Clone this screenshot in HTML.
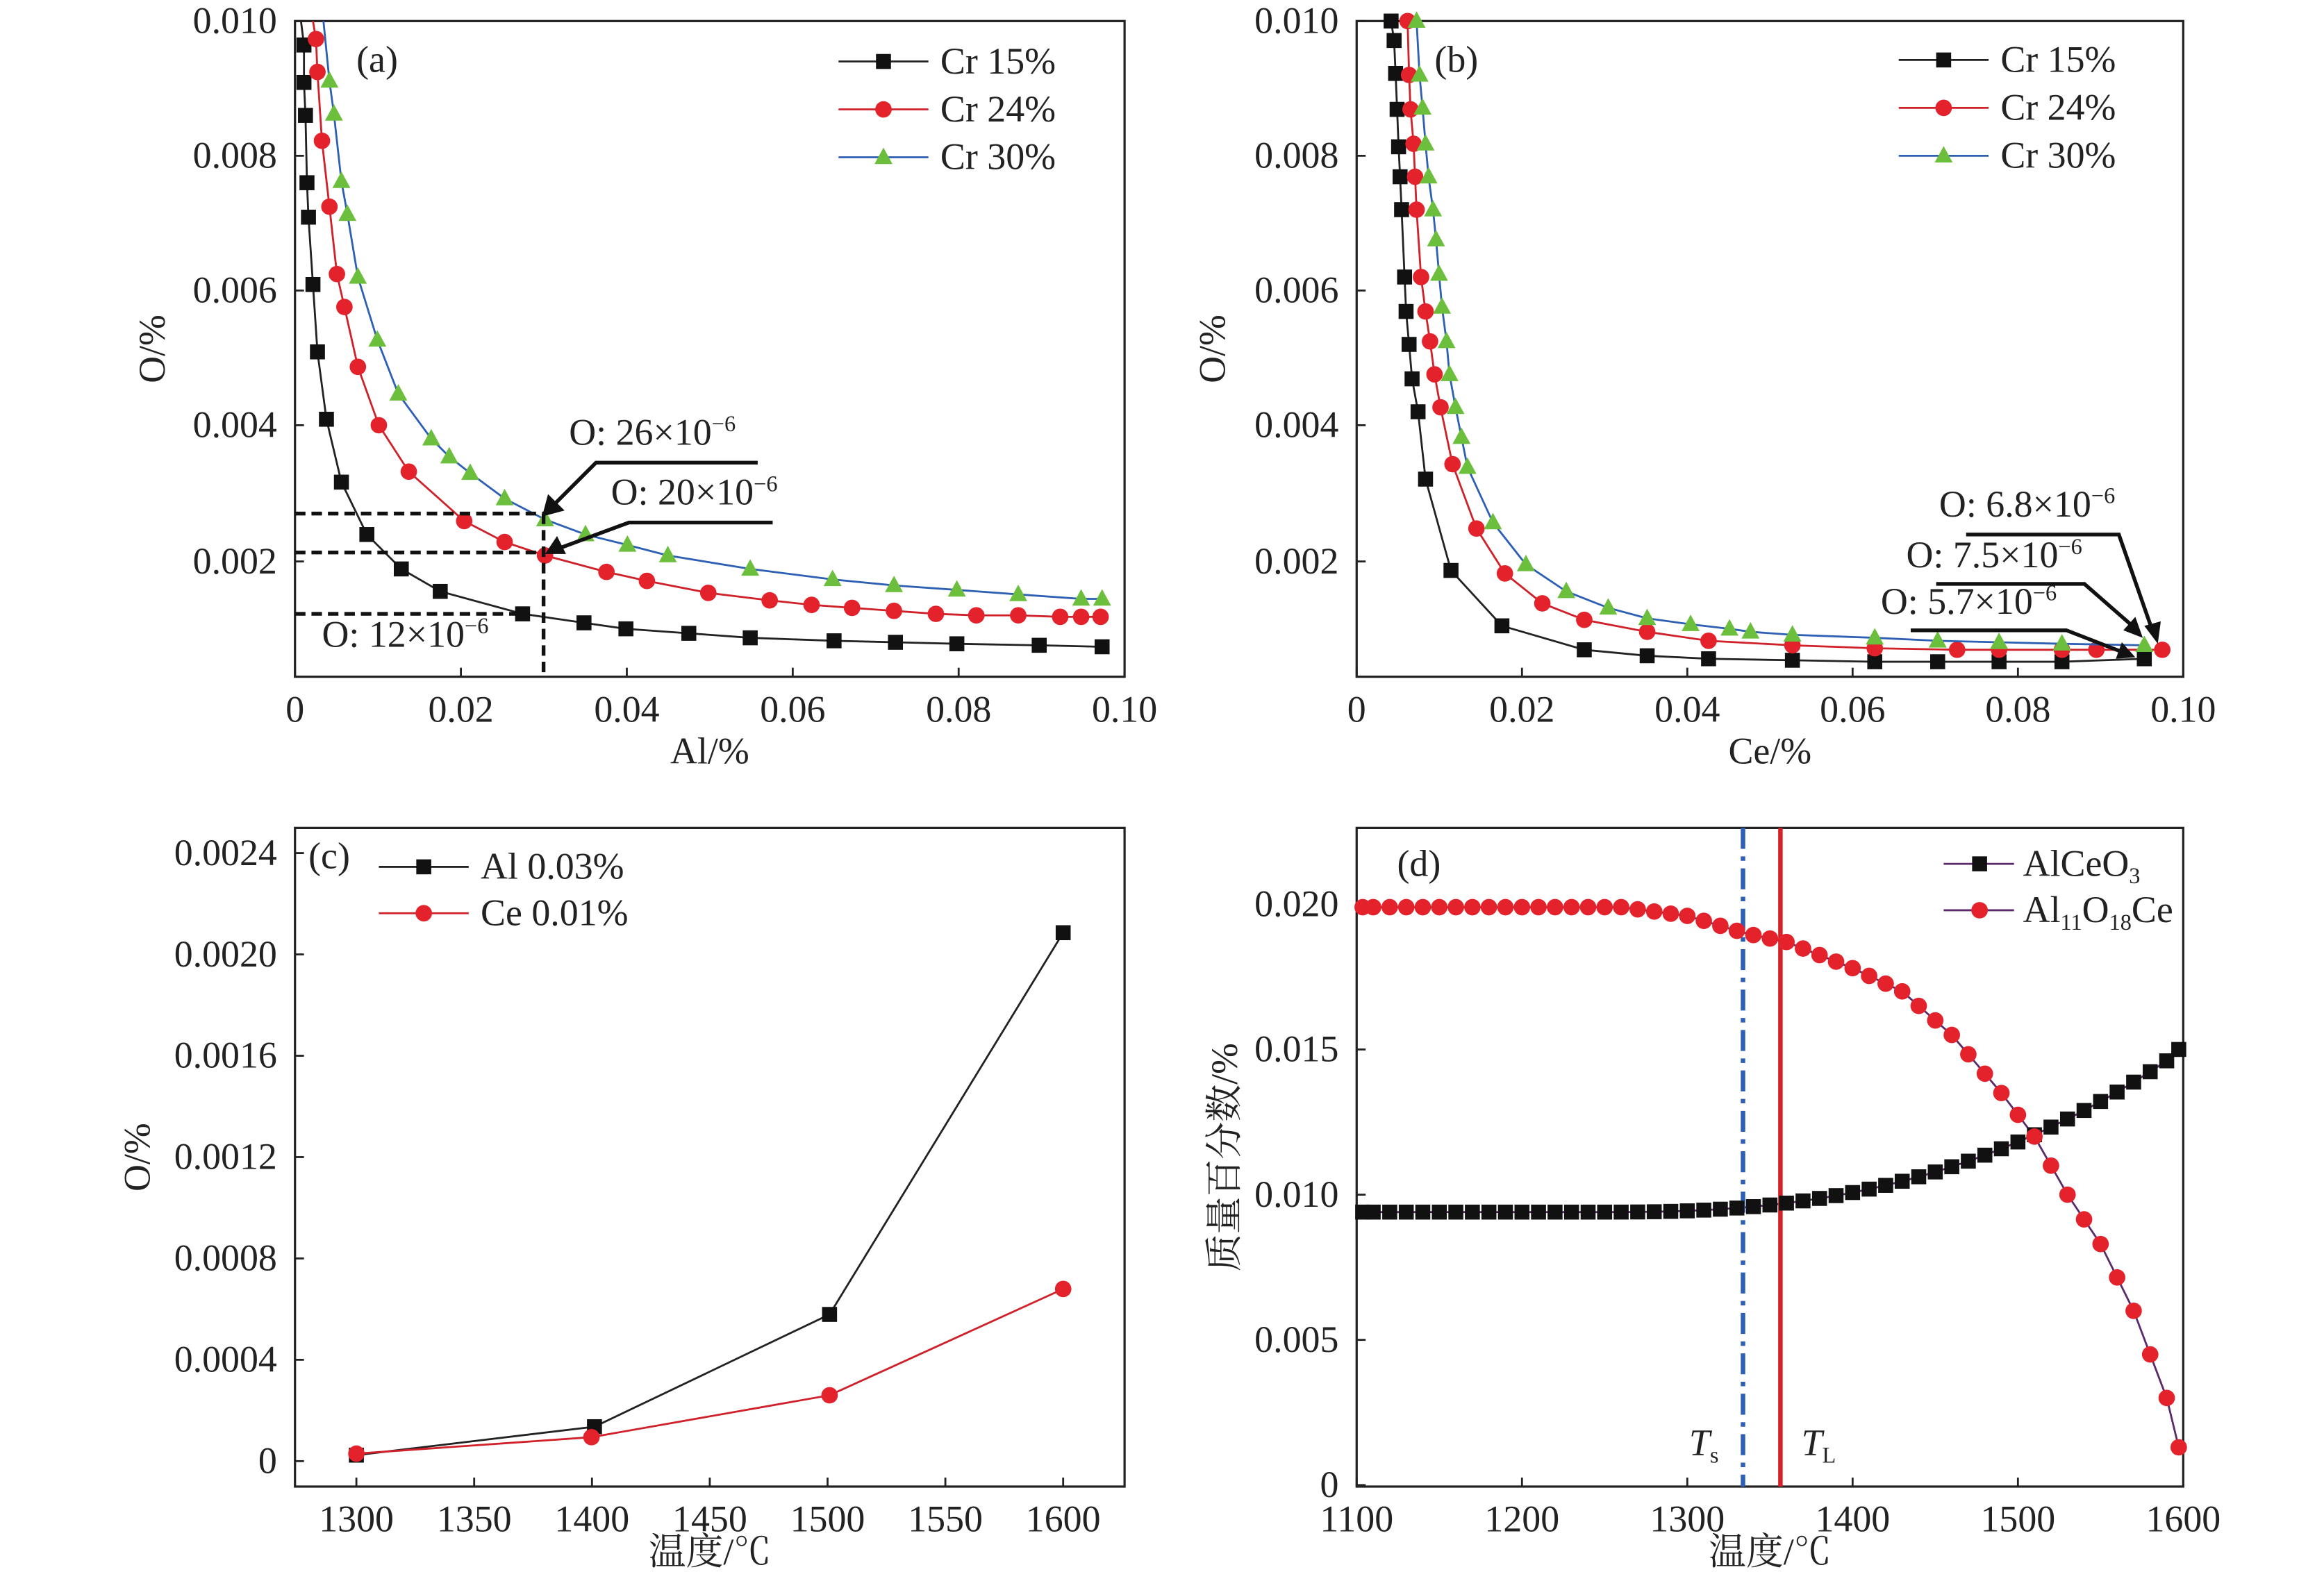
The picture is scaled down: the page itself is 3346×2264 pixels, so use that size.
<!DOCTYPE html>
<html><head><meta charset="utf-8">
<style>
html,body{margin:0;padding:0;background:#fff;}
svg{display:block;}
text{font-family:"Liberation Serif","Noto Serif CJK SC",serif;fill:#222;}
</style></head>
<body>
<svg id="s" width="3346" height="2264" viewBox="0 0 1552 1050" xmlns="http://www.w3.org/2000/svg">
<rect width="1552" height="1050" fill="#fff"/>
<g id="g"></g>
</svg>
<script>
const g=document.getElementById('g');
let h='';
function T(x,y,t,o){o=o||{};h+=`<text x="${x}" y="${y}" font-size="${o.fs||25}" text-anchor="${o.a||'start'}" ${o.tr?`transform="${o.tr}"`:''}>${t}</text>`;}
function L(pts,c,w,d){h+=`<polyline points="${pts.map(p=>p.join(',')).join(' ')}" fill="none" stroke="${c}" stroke-width="${w||1.3}" ${d?`stroke-dasharray="${d}"`:''}/>`;}
function M(p,t){const[x,y]=p;
 if(t=='s')h+=`<rect x="${x-5}" y="${y-5}" width="10" height="10" fill="#111"/>`;
 else if(t=='c')h+=`<circle cx="${x}" cy="${y}" r="5.5" fill="#e3222b"/>`;
 else h+=`<polygon points="${x},${y-6.5} ${x-6},${y+4.5} ${x+6},${y+4.5}" fill="#6cbf3c"/>`;}
function S(pts,t,c){L(pts,c);pts.forEach(p=>M(p,t));}
function box(x0,y0,x1,y1){h+=`<rect x="${x0}" y="${y0}" width="${x1-x0}" height="${y1-y0}" fill="none" stroke="#222" stroke-width="1.5"/>`;}
function xt(x,y,lab){h+=`<line x1="${x}" y1="${y}" x2="${x}" y2="${y-6}" stroke="#222" stroke-width="1.3"/>`;T(x,y+30,lab,{a:'middle'});}
function yt(x,y,lab){h+=`<line x1="${x}" y1="${y}" x2="${x+6}" y2="${y}" stroke="#222" stroke-width="1.3"/>`;T(x-12,y+8,lab,{a:'end'});}
function leg(x1,x2,y,t,c,lab){L([[x1,y],[x2,y]],c);M([(x1+x2)/2,y],t);T(x2+8,y+8,lab);}
const BK='#222',RD='#d0202a',BL='#2d5fb4',PU='#5a2a6a';
const SUP='<tspan dy="-9" font-size="15">−6</tspan>';
// Panel a
box(197,14,751,452);
[0,0.02,0.04,0.06,0.08,0.10].forEach((v,i)=>xt(197+5540*v,452,['0','0.02','0.04','0.06','0.08','0.10'][i]));
[[0.002,375],[0.004,284],[0.006,194],[0.008,104],[0.010,14]].forEach(a=>yt(197,a[1],a[0].toFixed(3)));
T(474,510,'Al/%',{a:'middle'});T(110,233,'O/%',{a:'middle',tr:'rotate(-90 110 233)'});
T(238,48,'(a)');
let a1=[[203,30],[203,55],[204,77],[205,122],[206,145],[209,190],[212,235],[218,280],[228,322],[245,357],[268,380],[294,395],[349,410],[390,416],[418,420],[460,423],[501,426],[557,428],[598,429],[639,430],[694,431],[736,432]];
let a2=[[211,26],[212,48],[215,94],[220,138],[225,183],[230,205],[239,245],[253,284],[273,315],[310,348],[337,362],[364,371],[405,382],[432,388],[473,396],[514,401],[542,404],[569,406],[597,408],[625,410],[652,411],[680,411],[708,412],[722,412],[735,412]];
let a3=[[220,54],[223,76],[228,121],[232,143],[239,185],[252,227],[266,263],[288,293],[300,305],[314,316],[337,333],[364,347],[391,357],[419,364],[446,371],[501,380],[556,387],[597,391],[639,394],[680,397],[722,400],[736,400]];
L([[201,14],[203,30]],BK);L([[209,14],[211,26]],RD);L([[216,14],[220,54]],BL);
S(a1,'s',BK);S(a2,'c',RD);S(a3,'t',BL);
leg(560,620,41,'s',BK,'Cr 15%');leg(560,620,73,'c',RD,'Cr 24%');leg(560,620,105,'t',BL,'Cr 30%');
L([[197,343],[364,343]],'#111',2.5,'7,4');L([[197,369],[364,369]],'#111',2.5,'7,4');L([[197,410],[353,410]],'#111',2.5,'7,4');L([[363,343],[363,452]],'#111',2.5,'7,4');
L([[506,309],[398,309],[370,337]],'#111',2.5);h+=`<polygon points="362,345 366,330 377,341" fill="#111"/>`;
L([[516,349],[420,349],[374,366]],'#111',2.5);h+=`<polygon points="364,370 372,358 378,370" fill="#111"/>`;
T(380,297,'O: 26×10'+SUP);T(408,337,'O: 20×10'+SUP);T(215,432,'O: 12×10'+SUP);
// Panel b
box(906,14,1458,452);
[0,0.02,0.04,0.06,0.08,0.10].forEach((v,i)=>xt(906+5520*v,452,['0','0.02','0.04','0.06','0.08','0.10'][i]));
[[0.002,375],[0.004,284],[0.006,194],[0.008,104],[0.010,14]].forEach(a=>yt(906,a[1],a[0].toFixed(3)));
T(1182,510,'Ce/%',{a:'middle'});T(818,233,'O/%',{a:'middle',tr:'rotate(-90 818 233)'});
T(958,48,'(b)');
let b1=[[929,14],[931,27],[932,49],[933,73],[934,98],[935,118],[936,140],[938,185],[939,208],[941,230],[943,253],[947,275],[952,320],[969,381],[1003,418],[1058,434],[1100,438],[1141,440],[1197,441],[1252,442],[1294,442],[1335,442],[1377,442],[1432,440]];
let b2=[[940,14],[941,50],[942,73],[944,96],[945,118],[946,140],[949,185],[952,208],[955,228],[958,250],[962,272],[970,310],[986,353],[1005,383],[1030,403],[1058,414],[1100,422],[1141,428],[1197,431],[1252,433],[1307,434],[1335,434],[1377,434],[1400,434],[1444,434]];
let b3=[[946,14],[948,50],[950,72],[952,96],[954,118],[957,140],[959,160],[961,183],[963,205],[966,228],[968,250],[972,272],[976,292],[980,312],[997,349],[1019,377],[1046,395],[1074,406],[1100,413],[1129,417],[1155,420],[1169,422],[1197,424],[1252,426],[1294,428],[1335,429],[1377,430],[1432,431]];
S(b1,'s',BK);S(b2,'c',RD);S(b3,'t',BL);
leg(1268,1328,40,'s',BK,'Cr 15%');leg(1268,1328,72,'c',RD,'Cr 24%');leg(1268,1328,104,'t',BL,'Cr 30%');
T(1295,345,'O: 6.8×10'+SUP);T(1273,379,'O: 7.5×10'+SUP);T(1256,410,'O: 5.7×10'+SUP);
L([[1313,357],[1415,357],[1437,420]],'#111',2.5);h+=`<polygon points="1441,430 1432,418 1443,415" fill="#111"/>`;
L([[1293,390],[1392,390],[1424,418]],'#111',2.5);h+=`<polygon points="1431,426 1418,421 1426,412" fill="#111"/>`;
L([[1276,421],[1380,421],[1416,435]],'#111',2.5);h+=`<polygon points="1426,439 1413,440 1417,429" fill="#111"/>`;
// Panel c
box(197,553,751,993);
[1300,1350,1400,1450,1500,1550,1600].forEach(v=>xt(238+(v-1300)*1.5733,993,v));
['0','0.0004','0.0008','0.0012','0.0016','0.0020','0.0024'].forEach((l,i)=>yt(197,976-67.7*i,l));
T(474,1045,'温度/℃',{a:'middle'});T(100,773,'O/%',{a:'middle',tr:'rotate(-90 100 773)'});
T(206,580,'(c)');
S([[238,972],[397,953],[554,878],[710,623]],'s',BK);
S([[238,971],[395,960],[554,932],[710,861]],'c',RD);
leg(253,313,579,'s',BK,'Al 0.03%');leg(253,313,610,'c',RD,'Ce 0.01%');
// Panel d
box(906,553,1458,993);
[1100,1200,1300,1400,1500,1600].forEach(v=>xt(906+(v-1100)*1.104,993,v));
['0','0.005','0.010','0.015','0.020'].forEach((l,i)=>yt(906,992-97*i,l));
T(1182,1045,'温度/℃',{a:'middle'});T(826,773,'质量百分数/%',{a:'middle',tr:'rotate(-90 826 773)'});
T(933,585,'(d)');
const X=t=>906+(t-1100)*1.104,Y=v=>992-v*19400;
let k=[[1100,.0199],[1260,.0199],[1300,.0196],[1335,.0190],[1360,.0187],[1400,.0178],[1430,.0170],[1460,.0155],[1490,.0135],[1510,.0120],[1530,.0100],[1550,.0083],[1570,.0060],[1580,.0045],[1590,.0030],[1600,.0013]];
function itp(t){for(let i=0;i<k.length-1;i++)if(t<=k[i+1][0]){const f=(t-k[i][0])/(k[i+1][0]-k[i][0]);return k[i][1]+f*(k[i+1][1]-k[i][1]);}return k[k.length-1][1];}
let d1=[],d2=[];
for(let t=1100;t<=1600;t+=10){let v=0.0094+(t>1250?0.0056*Math.pow((t-1250)/350,2.5):0);d1.push([X(t)+(t==1100?4:0)-(t==1600?3:0),Y(v)]);d2.push([X(t)+(t==1100?4:0)-(t==1600?3:0),Y(itp(t))]);}
L(d1,PU);L(d2,PU);
h+=`<line x1="1164" y1="553" x2="1164" y2="993" stroke="${BL}" stroke-width="3" stroke-dasharray="14,5,3,5"/>`;
h+=`<line x1="1189" y1="553" x2="1189" y2="993" stroke="#d42026" stroke-width="3"/>`;
d1.forEach(p=>M(p,'s'));d2.forEach(p=>M(p,'c'));
T(1128,972,'<tspan font-style="italic">T</tspan><tspan font-size="15" dy="5">s</tspan>');
T(1203,972,'<tspan font-style="italic">T</tspan><tspan font-size="15" dy="5">L</tspan>');
L([[1298,577],[1345,577]],PU);M([1322,577],'s');T(1351,585,'AlCeO<tspan font-size="15" dy="5">3</tspan>');
L([[1298,608],[1345,608]],PU);M([1322,608],'c');T(1351,616,'Al<tspan font-size="15" dy="5">11</tspan><tspan dy="-5">O</tspan><tspan font-size="15" dy="5">18</tspan><tspan dy="-5">Ce</tspan>');
g.innerHTML=h;
</script>
</body></html>
